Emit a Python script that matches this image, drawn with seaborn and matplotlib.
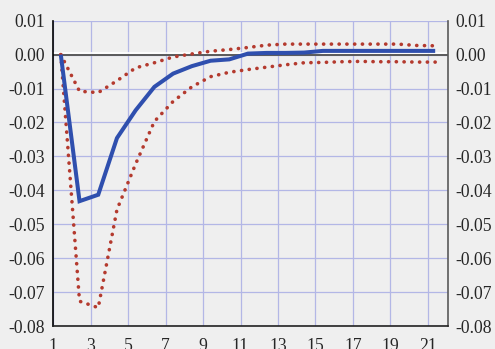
import numpy as np
import pandas as pd
import seaborn as sns
import matplotlib.pyplot as plt
import matplotlib.patheffects as pe
from matplotlib.ticker import FixedLocator, FuncFormatter

# impulse response (periods 1..21) with +/- 2 s.e. bands
periods = list(range(1, 22))
response = [0.0, -0.0432, -0.0413, -0.0246, -0.0164, -0.0095, -0.0056, -0.0034, -0.0018, -0.0014,
            0.0003, 0.0005, 0.0005, 0.0006, 0.0011, 0.0011, 0.0011, 0.0011, 0.0011, 0.0011, 0.0011]
upper = [0.0, -0.0108, -0.0112, -0.0077, -0.0039, -0.0024, -0.0007, 0.0002, 0.0010, 0.0015,
         0.0021, 0.0028, 0.0031, 0.0031, 0.0031, 0.0031, 0.0031, 0.0031, 0.0031, 0.0027, 0.0026]
lower = [0.0, -0.0727, -0.0746, -0.0457, -0.0322, -0.0197, -0.0138, -0.0095, -0.0065, -0.0052,
         -0.0044, -0.0037, -0.0030, -0.0024, -0.0023, -0.0021, -0.0020, -0.0021, -0.0021, -0.0022, -0.0022]

xticks = [1, 3, 5, 7, 9, 11, 13, 15, 17, 19, 21]
yticks = [-0.08, -0.07, -0.06, -0.05, -0.04, -0.03, -0.02, -0.01, 0.00, 0.01]

bg = "#efefef"
sns.set_style("white", {"axes.facecolor": bg, "figure.facecolor": bg})
plt.rcParams['font.family'] = ['Liberation Serif', 'DejaVu Serif']
plt.rcParams['axes.unicode_minus'] = False

df = pd.DataFrame({"period": periods, "response": response, "upper": upper, "lower": lower})
df["x"] = df["period"] + 0.4  # observations drawn inside each period slot

fig = plt.figure(figsize=(4.95, 3.49), dpi=100)
ax = fig.add_axes([0.1077, 0.0659, 0.7968, 0.8748])

for y in yticks:
    ax.axhline(y, color="#b3b7e6", lw=0.9, zorder=0)
for x in xticks:
    ax.axvline(x, color="#b3b7e6", lw=0.9, zorder=0)

ax.axhline(0, color="#5a5a5a", lw=1.4, zorder=1,
           path_effects=[pe.Stroke(linewidth=1.2, foreground="white", offset=(0, 1.1)), pe.Normal()])

dot = (0, (0.05, 2.1))
for col in ["upper", "lower"]:
    sns.lineplot(data=df, x="x", y=col, ax=ax, color="#b43a2e", lw=2.6,
                 linestyle=dot, dash_capstyle="round", zorder=3)
sns.lineplot(data=df, x="x", y="response", ax=ax, color="#2f4fae", lw=2.9, zorder=4,
             solid_capstyle="butt", solid_joinstyle="miter")

ax.set_xlim(1, 22.07)
ax.set_ylim(-0.08, 0.01)
ax.xaxis.set_major_locator(FixedLocator(xticks))
ax.yaxis.set_major_locator(FixedLocator(yticks))
ax.yaxis.set_major_formatter(FuncFormatter(lambda v, p: "%.2f" % (round(v, 2) + 0.0)))
ax.set_xlabel("")
ax.set_ylabel("")

ax.tick_params(axis="x", direction="out", length=3.5, width=1, color="black",
               labelsize=12.7, pad=5)
ax.tick_params(axis="y", length=0, labelsize=12.7, pad=5.8,
               left=True, right=True, labelleft=True, labelright=True)

ax.spines["top"].set_visible(False)
ax.spines["left"].set_color("black")
ax.spines["left"].set_linewidth(1.2)
ax.spines["bottom"].set_color("#222222")
ax.spines["bottom"].set_linewidth(1.2)
ax.spines["right"].set_color("#5a5a5a")
ax.spines["right"].set_linewidth(1.2)

fig.savefig("out.png", dpi=100, facecolor=bg)
